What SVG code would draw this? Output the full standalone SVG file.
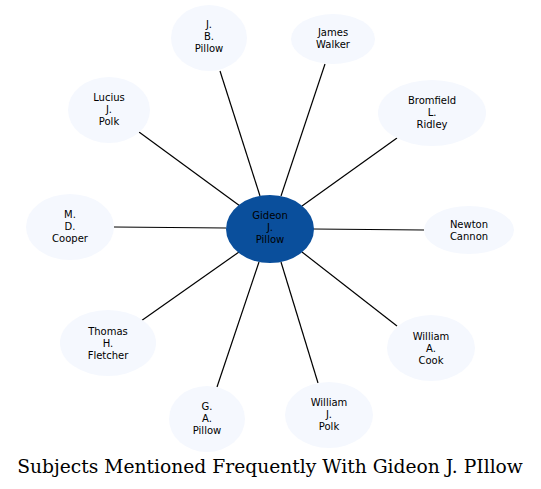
<svg xmlns="http://www.w3.org/2000/svg" width="541" height="489" viewBox="0 0 541 489">
<style>
.n ellipse{fill:#f5f8fe;stroke:none}
.n text,.c text{font-family:"DejaVu Sans",sans-serif;font-size:10px;text-anchor:middle;fill:#000}
#edges line{stroke:#000;stroke-width:1.2}
.title{font-family:"DejaVu Serif",serif;font-size:18.7px;text-anchor:middle;fill:#000}
</style>
<rect width="541" height="489" fill="#fff"/>
<g id="edges">
<line x1="260" y1="196" x2="220" y2="71"/>
<line x1="281" y1="196" x2="325" y2="64"/>
<line x1="302" y1="206" x2="397" y2="138"/>
<line x1="313" y1="229" x2="424" y2="230"/>
<line x1="302" y1="252" x2="397" y2="326"/>
<line x1="281" y1="262" x2="318" y2="383"/>
<line x1="259" y1="262" x2="217" y2="387"/>
<line x1="239" y1="252" x2="141" y2="321"/>
<line x1="226" y1="228" x2="114" y2="227"/>
<line x1="240" y1="206" x2="139" y2="132"/>
</g>
<g id="center" class="c">
<ellipse cx="270" cy="229" rx="44" ry="34" fill="#0a4f9c"/>
<text x="270" y="219">Gideon</text><text x="270" y="231">J.</text><text x="270" y="243">Pillow</text>
</g>
<g id="jbpillow" class="n"><ellipse cx="209" cy="38" rx="38" ry="33"/>
<text x="209" y="28">J.</text><text x="209" y="40">B.</text><text x="209" y="52">Pillow</text></g>
<g id="jameswalker" class="n"><ellipse cx="333" cy="39" rx="42" ry="25"/>
<text x="333" y="36">James</text><text x="333" y="48">Walker</text></g>
<g id="bromfield" class="n"><ellipse cx="432" cy="113" rx="54" ry="33"/>
<text x="432" y="104">Bromfield</text><text x="432" y="116">L.</text><text x="432" y="128">Ridley</text></g>
<g id="newtoncannon" class="n"><ellipse cx="469" cy="230" rx="45" ry="24"/>
<text x="469" y="228">Newton</text><text x="469" y="240">Cannon</text></g>
<g id="williamcook" class="n"><ellipse cx="431" cy="348" rx="44" ry="33"/>
<text x="431" y="340">William</text><text x="431" y="352">A.</text><text x="431" y="364">Cook</text></g>
<g id="williampolk" class="n"><ellipse cx="329" cy="415" rx="44" ry="33"/>
<text x="329" y="406">William</text><text x="329" y="418">J.</text><text x="329" y="430">Polk</text></g>
<g id="gapillow" class="n"><ellipse cx="207" cy="419" rx="38" ry="33"/>
<text x="207" y="410">G.</text><text x="207" y="422">A.</text><text x="207" y="434">Pillow</text></g>
<g id="thomasfletcher" class="n"><ellipse cx="108" cy="343" rx="48" ry="33"/>
<text x="108" y="335">Thomas</text><text x="108" y="347">H.</text><text x="108" y="359">Fletcher</text></g>
<g id="mdcooper" class="n"><ellipse cx="70" cy="227" rx="44" ry="33"/>
<text x="70" y="218">M.</text><text x="70" y="230">D.</text><text x="70" y="242">Cooper</text></g>
<g id="luciuspolk" class="n"><ellipse cx="109" cy="110" rx="41" ry="33"/>
<text x="109" y="101">Lucius</text><text x="109" y="113">J.</text><text x="109" y="125">Polk</text></g>
<text class="title" x="270" y="473">Subjects Mentioned Frequently With Gideon J. PIllow</text>
</svg>
